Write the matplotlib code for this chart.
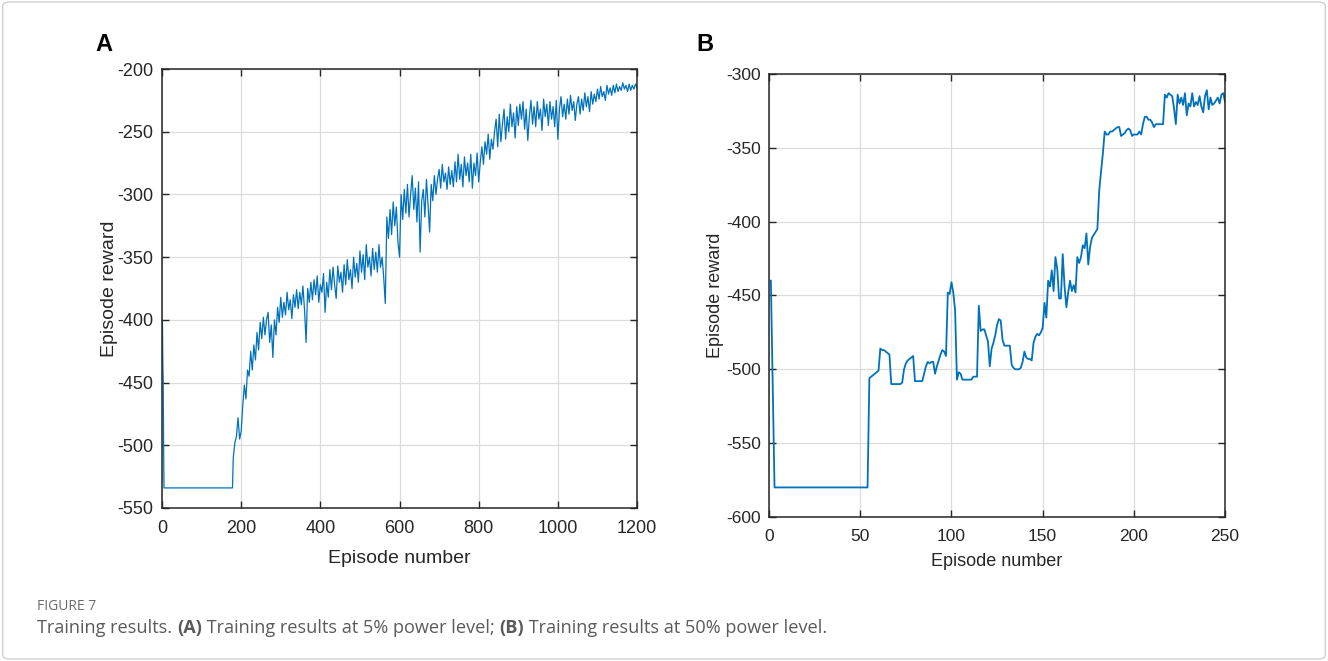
import numpy as np
import matplotlib
matplotlib.use("Agg")
import matplotlib.pyplot as plt
from matplotlib.patches import FancyBboxPatch

plt.rcParams['font.family'] = ['Liberation Sans', 'DejaVu Sans']
plt.rcParams['axes.unicode_minus'] = False

# panel A: first few episodes, then every 4th episode from 180 on
a_head_ep = [1, 2, 3, 4, 5, 178]
a_head_reward = [-400, -434, -449, -500, -534, -534]
a_tail_start, a_tail_step = 180, 4
a_tail_reward = [
    -510, -498, -493, -478, -495, -489, -468, -452, -463, -440,
    -445, -425, -440, -420, -432, -410, -424, -402, -415, -398,
    -412, -400, -394, -418, -404, -430, -400, -412, -390, -402,
    -382, -398, -386, -396, -378, -392, -384, -399, -380, -390,
    -376, -391, -378, -388, -373, -392, -418, -375, -386, -370,
    -384, -368, -380, -365, -386, -372, -378, -363, -394, -370,
    -382, -360, -376, -358, -372, -383, -357, -370, -362, -378,
    -356, -372, -352, -368, -360, -375, -350, -366, -355, -370,
    -345, -362, -348, -368, -340, -358, -350, -365, -343, -360,
    -346, -362, -340, -358, -350, -366, -387, -318, -335, -312,
    -332, -306, -325, -310, -338, -350, -300, -320, -296, -315,
    -292, -318, -300, -285, -312, -295, -322, -290, -346, -305,
    -296, -318, -288, -308, -330, -292, -305, -285, -300, -288,
    -280, -295, -276, -290, -283, -296, -278, -292, -281, -294,
    -274, -290, -268, -288, -276, -294, -270, -285, -275, -290,
    -268, -295, -275, -285, -267, -290, -274, -262, -276, -258,
    -268, -252, -272, -256, -264, -250, -240, -262, -236, -258,
    -244, -232, -256, -238, -250, -228, -246, -235, -255, -230,
    -245, -228, -240, -226, -248, -232, -257, -238, -225, -244,
    -230, -246, -226, -240, -232, -249, -224, -238, -228, -245,
    -226, -240, -230, -246, -225, -256, -232, -222, -238, -228,
    -240, -224, -236, -221, -233, -226, -241, -228, -222, -236,
    -224, -233, -219, -230, -222, -234, -218, -228, -220, -226,
    -216, -224, -214, -222, -218, -225, -213, -220, -215, -221,
    -213, -219, -212, -218, -214, -217, -211, -216, -213, -218,
    -212, -217, -213, -216, -212, -215,
]

# panel B: one value per episode, 1..250
b_reward = (
    [-440, -510] + [-580] * 52 +
    [-506, -505, -504, -503, -502, -501, -486, -487, -487, -488, -489, -490,
     -510, -510, -510, -510, -510, -510, -509,
     -500, -496, -494, -493, -492, -491,
     -508, -508, -508, -508, -508,
     -503, -498, -495, -496, -495, -495,
     -503, -498, -494, -490, -487, -488, -491,
     -448, -449, -441, -448, -460,
     -507, -502, -503, -507, -507, -507, -507, -507, -507,
     -505, -505, -505,
     -457, -474, -473, -473, -477, -481, -498, -486, -482, -477,
     -470, -466, -467, -480, -484, -484, -484, -484,
     -497, -499, -500, -500, -500, -499, -495, -488, -492, -493, -493, -494,
     -482, -478, -476, -477, -475, -472,
     -455, -465, -440, -444, -433, -447, -424, -432, -452, -452,
     -422, -444, -458, -448, -440, -447, -443, -448, -424, -428,
     -424, -416, -418, -408, -429, -417, -411, -409, -407, -405,
     -379, -366, -354, -339, -341, -341, -339, -339, -338, -337,
     -336, -336, -342, -341, -340, -338, -337, -338, -342, -341,
     -341, -341, -339, -341, -334, -329, -329, -331, -331, -333,
     -336, -334, -334, -334, -334, -334, -314, -316, -313, -314,
     -315, -323, -334, -314, -320, -316, -321, -313, -328, -320,
     -322, -313, -322, -319, -321, -315, -322, -326, -315, -311,
     -324, -316, -321, -320, -318, -316, -320, -314, -313, -319]
)

a_xticks = [0, 200, 400, 600, 800, 1000, 1200]
a_yticks = [-550, -500, -450, -400, -350, -300, -250, -200]
b_xticks = [0, 50, 100, 150, 200, 250]
b_yticks = [-600, -550, -500, -450, -400, -350, -300]

a_ep = np.concatenate([a_head_ep,
                       a_tail_start + a_tail_step * np.arange(len(a_tail_reward))])
a_reward = np.concatenate([a_head_reward, a_tail_reward])
b_ep = np.arange(1, len(b_reward) + 1)

line_color = '#0072BD'
text_color = '#262626'

fig = plt.figure(figsize=(13.28, 6.61), dpi=100)
fig.add_artist(FancyBboxPatch((0.002, 0.003), 0.996, 0.994,
                              boxstyle='round,pad=0,rounding_size=0.006',
                              transform=fig.transFigure, fill=False,
                              edgecolor='#d0d0d0', linewidth=1))

ax_a = fig.add_axes([0.1220, 0.2315, 0.3577, 0.6641])
ax_b = fig.add_axes([0.5791, 0.2179, 0.3434, 0.6702])


def style_axes(ax, xticks, yticks, label_size, tick_size, xpad, xlabelpad, ylabelpad):
    ax.set_xticks(xticks)
    ax.set_yticks(yticks)
    ax.set_xlim(xticks[0], xticks[-1])
    ax.set_ylim(yticks[0], yticks[-1])
    ax.grid(True, color='#dcdcdc', linewidth=0.9)
    ax.set_axisbelow(True)
    ax.tick_params(direction='in', length=5, width=1, top=True, right=True,
                   labelsize=tick_size, colors=text_color, pad=6)
    ax.tick_params(axis='x', pad=xpad)
    for sp in ax.spines.values():
        sp.set_color(text_color)
        sp.set_linewidth(1.1)
    ax.set_xlabel('Episode number', fontsize=label_size, color=text_color,
                  labelpad=xlabelpad)
    ax.set_ylabel('Episode reward', fontsize=label_size, color=text_color,
                  labelpad=ylabelpad)


ax_a.plot(a_ep, a_reward, color=line_color, linewidth=0.9)
style_axes(ax_a, a_xticks, a_yticks, 14, 13, 9, 9, 0)

ax_b.plot(b_ep, b_reward, color=line_color, linewidth=1.3)
style_axes(ax_b, b_xticks, b_yticks, 13, 12.5, 9, 6, 1)

fig.text(0.0715, 0.933, 'A', fontsize=17, fontweight='bold', color='black', va='center')
fig.text(0.5245, 0.933, 'B', fontsize=17, fontweight='bold', color='black', va='center')

# caption
cap = fig.add_axes([0, 0, 1, 1])
cap.set_axis_off()
cap_font = ['Open Sans', 'DejaVu Sans']
cap.text(0.0279, 0.077, 'FIGURE 7', transform=fig.transFigure, fontsize=10,
         family=cap_font, color='#6a6a6a', va='baseline')
pieces = [
    ('Training results. ', 'normal'),
    ('(A)', 'bold'),
    (' Training results at 5% power level; ', 'normal'),
    ('(B)', 'bold'),
    (' Training results at 50% power level.', 'normal'),
]
prev = cap.text(0.0279, 0.043, pieces[0][0], transform=fig.transFigure,
                fontsize=13.1, family=cap_font, color='#5a5a5a', va='baseline')
for txt, w in pieces[1:]:
    prev = cap.annotate(txt, xy=(1, 0), xycoords=prev, va='bottom',
                        fontsize=13.1, family=cap_font, fontweight=w, color='#5a5a5a')

fig.savefig('out.png', dpi=100)
